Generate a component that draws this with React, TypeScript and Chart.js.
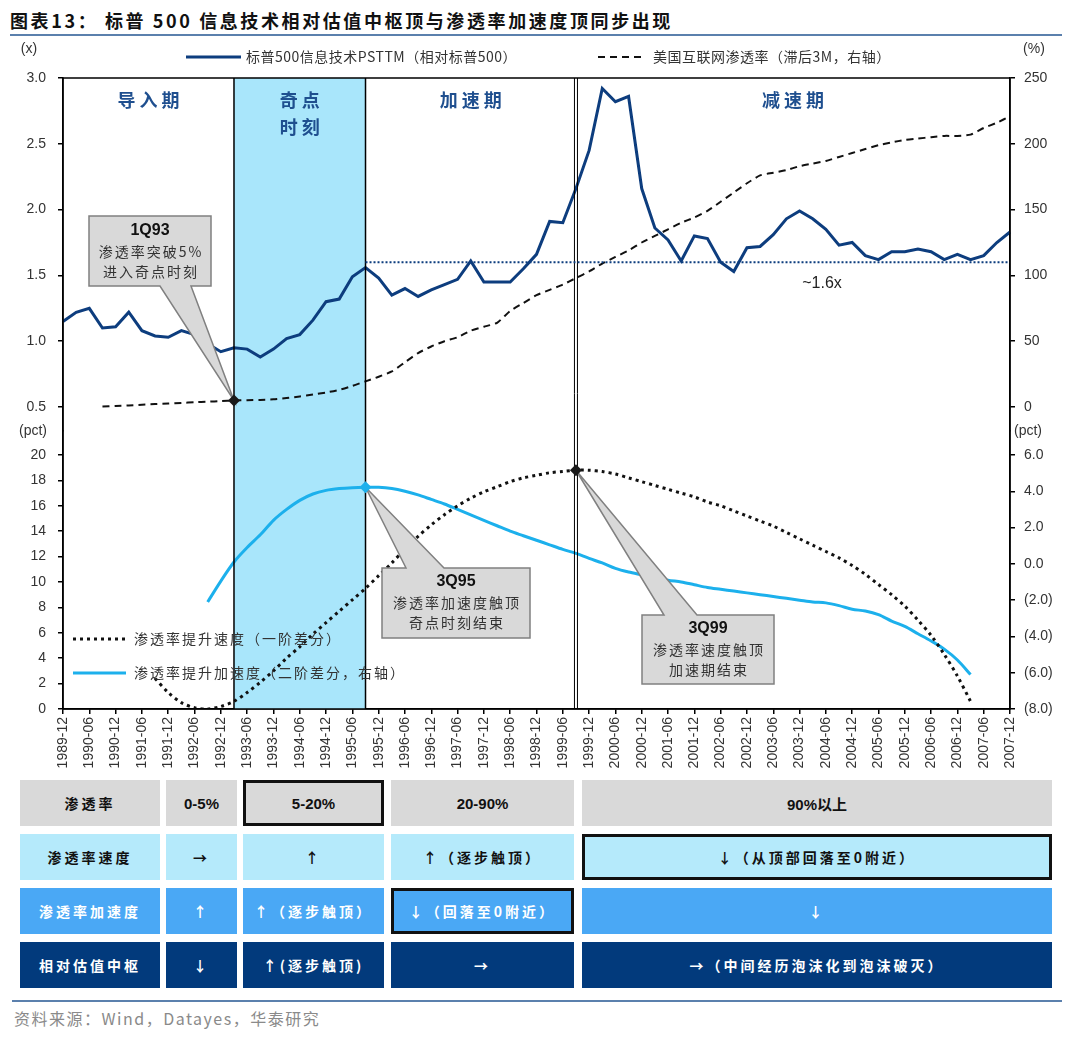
import React, { useEffect, useRef } from 'react';
import { Chart, registerables } from 'chart.js';

Chart.register(...registerables);

const CJK = '"Noto Sans CJK SC", "Noto Sans", sans-serif';
const SANS = '"Liberation Sans", Arial, sans-serif';

// ---------------- data ----------------
const quarters = [
  '1989-12',
  '1990-03', '1990-06', '1990-09', '1990-12',
  '1991-03', '1991-06', '1991-09', '1991-12',
  '1992-03', '1992-06', '1992-09', '1992-12',
  '1993-03', '1993-06', '1993-09', '1993-12',
  '1994-03', '1994-06', '1994-09', '1994-12',
  '1995-03', '1995-06', '1995-09', '1995-12',
  '1996-03', '1996-06', '1996-09', '1996-12',
  '1997-03', '1997-06', '1997-09', '1997-12',
  '1998-03', '1998-06', '1998-09', '1998-12',
  '1999-03', '1999-06', '1999-09', '1999-12',
  '2000-03', '2000-06', '2000-09', '2000-12',
  '2001-03', '2001-06', '2001-09', '2001-12',
  '2002-03', '2002-06', '2002-09', '2002-12',
  '2003-03', '2003-06', '2003-09', '2003-12',
  '2004-03', '2004-06', '2004-09', '2004-12',
  '2005-03', '2005-06', '2005-09', '2005-12',
  '2006-03', '2006-06', '2006-09', '2006-12',
  '2007-03', '2007-06', '2007-09', '2007-12',
];

// S&P 500 IT PS TTM relative to S&P 500 (x, left axis)
const psRelative = [
  1.15, 1.22, 1.25, 1.10, 1.11, 1.22, 1.08, 1.04, 1.03, 1.08,
  1.05, 0.98, 0.92, 0.95, 0.94, 0.88, 0.94, 1.02, 1.05, 1.16,
  1.30, 1.32, 1.49, 1.56, 1.48, 1.35, 1.40, 1.34, 1.39, 1.43,
  1.47, 1.61, 1.45, 1.45, 1.45, 1.55, 1.66, 1.91, 1.90, 2.16,
  2.45, 2.92, 2.82, 2.86, 2.16, 1.86, 1.77, 1.61, 1.80, 1.78,
  1.60, 1.53, 1.71, 1.72, 1.81, 1.93, 1.99, 1.93, 1.85, 1.73,
  1.75, 1.65, 1.62, 1.68, 1.68, 1.70, 1.68, 1.62, 1.66, 1.62,
  1.65, 1.75, 1.83,
];

// US internet penetration (lagged 3M, %, right axis)
const penetration = [
  null, null, null, 0.3, 0.8, 1.2, 1.7, 2.2, 2.6, 3.1,
  3.6, 4.0, 4.5, 5.0, 5.2, 5.4, 5.8, 6.8, 8.0, 9.5,
  11, 13, 16, 19.5, 23, 27, 34, 41, 46, 50,
  53, 58, 61, 64, 73, 79, 85, 89, 93, 98,
  103, 109, 114, 119, 125, 130, 135, 140, 144, 149,
  156, 163, 170, 176, 178, 180, 183, 185, 187, 190,
  193, 196, 199, 201, 203, 204, 205, 206, 206, 207,
  212, 216, 221,
];

// penetration speed (1st difference, pct, left axis)
const speed = [
  null, null, null, null, null, null, null, 2.4, 1.3, 0.5,
  0.1, 0.0, 0.2, 0.6, 1.3, 2.1, 3.0, 4.0, 4.9, 5.9,
  6.8, 7.7, 8.6, 9.5, 10.5, 11.5, 12.6, 13.6, 14.5, 15.3,
  16.0, 16.6, 17.1, 17.5, 17.9, 18.2, 18.4, 18.6, 18.7, 18.8,
  18.8, 18.7, 18.5, 18.2, 17.9, 17.6, 17.3, 17.0, 16.7, 16.3,
  16.0, 15.6, 15.2, 14.8, 14.4, 13.9, 13.4, 12.9, 12.4, 11.9,
  11.3, 10.6, 9.8, 9.0, 8.1, 7.0, 5.8, 4.3, 2.6, 0.6,
  null, null, null,
];

// penetration acceleration (2nd difference, pct, right axis)
const accel = [
  null, null, null, null, null, null, null, null, null, null,
  null, -2.1, -0.95, 0.1, 0.9, 1.6, 2.4, 3.0, 3.5, 3.85,
  4.05, 4.15, 4.2, 4.22, 4.22, 4.15, 4.0, 3.8, 3.55, 3.3,
  3.0, 2.7, 2.4, 2.1, 1.8, 1.55, 1.3, 1.05, 0.8, 0.58,
  0.3, 0.05, -0.25, -0.45, -0.6, -0.75, -0.9, -1.0, -1.15, -1.3,
  -1.4, -1.5, -1.6, -1.7, -1.8, -1.9, -2.0, -2.1, -2.15, -2.3,
  -2.5, -2.6, -2.8, -3.15, -3.45, -3.85, -4.25, -4.7, -5.3, -6.1,
  null, null, null,
];

const leftTopTicks = [0.5, 1.0, 1.5, 2.0, 2.5, 3.0];
const rightTopTicks = [0, 50, 100, 150, 200, 250];
const leftBottomTicks = [0, 2, 4, 6, 8, 10, 12, 14, 16, 18, 20];
const rightBottomTicks = [-8, -6, -4, -2, 0, 2, 4, 6];

const bandStart = '1993-03';
const bandEnd = '1995-09';
const accelEnd = '1999-09';
const centerLevel = 1.6;

const phaseLabels = ['导入期', '奇点', '时刻', '加速期', '减速期'];
const legendTop = ['标普500信息技术PSTTM（相对标普500）', '美国互联网渗透率（滞后3M，右轴）'];
const legendBottom = ['渗透率提升速度（一阶差分）', '渗透率提升加速度（二阶差分，右轴）'];
const callout1 = ['1Q93', '渗透率突破5%', '进入奇点时刻'];
const callout2 = ['3Q95', '渗透率加速度触顶', '奇点时刻结束'];
const callout3 = ['3Q99', '渗透率速度触顶', '加速期结束'];

const tableRowLabels = ['渗透率', '渗透率速度', '渗透率加速度', '相对估值中枢'];
const tableCells = [
  ['0-5%', '5-20%', '20-90%', '90%以上'],
  ['→', '↑', '↑（逐步触顶）', '↓（从顶部回落至0附近）'],
  ['↑', '↑（逐步触顶）', '↓（回落至0附近）', '↓'],
  ['↓', '↑(逐步触顶)', '→', '→（中间经历泡沫化到泡沫破灭）'],
];
const highlightedCells = ['0-2', '1-4', '2-3'];

// ---------------- styling ----------------
const NAVY = '#0d3d7e';
const CYAN = '#1cb0ec';
const BAND = '#a9e6fb';
const PHASE = '#1f4f8f';

const TOP = 78;
const SPLIT = 431;
const BOTTOM = 709;

function setSpacing(ctx: any, px: number) {
  try { ctx.letterSpacing = px + 'px'; } catch (e) { /* ignore */ }
}

function drawCallout(ctx: any, box: any, base: number[], tip: any, side: string, lines: string[], cx: number, ys: number[]) {
  const { x, y, w, h } = box;
  ctx.save();
  ctx.beginPath();
  if (side === 'bottom') {
    ctx.moveTo(x, y);
    ctx.lineTo(x + w, y);
    ctx.lineTo(x + w, y + h);
    ctx.lineTo(base[1], y + h);
    ctx.lineTo(tip.x, tip.y);
    ctx.lineTo(base[0], y + h);
    ctx.lineTo(x, y + h);
  } else {
    ctx.moveTo(x, y);
    ctx.lineTo(base[0], y);
    ctx.lineTo(tip.x, tip.y);
    ctx.lineTo(base[1], y);
    ctx.lineTo(x + w, y);
    ctx.lineTo(x + w, y + h);
    ctx.lineTo(x, y + h);
  }
  ctx.closePath();
  ctx.fillStyle = '#d9d9d9';
  ctx.fill();
  ctx.strokeStyle = '#808080';
  ctx.lineWidth = 1.5;
  ctx.stroke();
  ctx.textAlign = 'center';
  ctx.textBaseline = 'middle';
  ctx.fillStyle = '#111';
  setSpacing(ctx, 0);
  ctx.font = 'bold 16px ' + SANS;
  ctx.fillText(lines[0], cx, ys[0]);
  ctx.fillStyle = '#333';
  ctx.font = '14px ' + CJK;
  setSpacing(ctx, 2);
  ctx.fillText(lines[1], cx + 1, ys[1]);
  ctx.fillText(lines[2], cx + 1, ys[2]);
  ctx.restore();
}

function diamond(ctx: any, x: number, y: number, r: number, color: string) {
  ctx.save();
  ctx.beginPath();
  ctx.moveTo(x, y - r);
  ctx.lineTo(x + r, y);
  ctx.lineTo(x, y + r);
  ctx.lineTo(x - r, y);
  ctx.closePath();
  ctx.fillStyle = color;
  ctx.fill();
  ctx.restore();
}

const decorPlugin = {
  id: 'decor',
  beforeDatasetsDraw(chart: any) {
    const { ctx, chartArea: a, scales } = chart;
    const x = scales.x;
    const x0 = x.getPixelForValue(quarters.indexOf(bandStart));
    const x1 = x.getPixelForValue(quarters.indexOf(bandEnd));
    ctx.save();
    ctx.fillStyle = BAND;
    ctx.fillRect(x0, a.top, x1 - x0, a.bottom - a.top);
    ctx.restore();
  },
  afterDatasetsDraw(chart: any) {
    const { ctx, chartArea: a, scales } = chart;
    const x = scales.x;
    const iBand0 = quarters.indexOf(bandStart);
    const iBand1 = quarters.indexOf(bandEnd);
    const iAcc = quarters.indexOf(accelEnd);
    const x0 = x.getPixelForValue(iBand0);
    const x1 = x.getPixelForValue(iBand1);
    const x2 = x.getPixelForValue(iAcc);

    ctx.save();
    // vertical period separators
    ctx.strokeStyle = '#000';
    ctx.lineWidth = 1.5;
    ctx.beginPath();
    ctx.moveTo(x0, a.top); ctx.lineTo(x0, a.bottom);
    ctx.moveTo(x1, a.top); ctx.lineTo(x1, a.bottom);
    ctx.stroke();
    ctx.lineWidth = 1;
    ctx.beginPath();
    ctx.moveTo(x2 - 1.5, a.top); ctx.lineTo(x2 - 1.5, a.bottom);
    ctx.moveTo(x2 + 1.5, a.top); ctx.lineTo(x2 + 1.5, a.bottom);
    ctx.stroke();

    // center level dotted line
    const yc = scales.yTL.getPixelForValue(centerLevel);
    ctx.strokeStyle = NAVY;
    ctx.lineWidth = 2;
    ctx.setLineDash([2, 2]);
    ctx.beginPath();
    ctx.moveTo(x1, yc); ctx.lineTo(a.right, yc);
    ctx.stroke();
    ctx.setLineDash([]);

    // frame
    ctx.strokeStyle = '#000';
    ctx.lineWidth = 1.5;
    ctx.strokeRect(a.left, a.top, a.right - a.left, a.bottom - a.top);
    ctx.restore();

    // callouts
    const tip1 = { x: x0, y: scales.yTR.getPixelForValue(penetration[iBand0]) };
    const tip2 = { x: x1, y: scales.yBR.getPixelForValue(accel[iBand1]) };
    const tip3 = { x: x2, y: scales.yBL.getPixelForValue(speed[iAcc]) };
    drawCallout(ctx, { x: 89, y: 216, w: 122, h: 70 }, [160, 191], tip1, 'bottom', callout1, 150, [231, 252, 272]);
    drawCallout(ctx, { x: 382, y: 568, w: 148, h: 70 }, [406, 444], tip2, 'top', callout2, 456, [582, 603, 623]);
    drawCallout(ctx, { x: 642, y: 615, w: 132, h: 69 }, [664, 697], tip3, 'top', callout3, 708, [629, 650, 670]);
    diamond(ctx, tip1.x, tip1.y, 6, '#1a1a1a');
    diamond(ctx, tip2.x, tip2.y, 6, CYAN);
    diamond(ctx, tip3.x, tip3.y, 6, '#1a1a1a');

    // phase labels
    ctx.save();
    ctx.fillStyle = PHASE;
    ctx.font = 'bold 18px ' + CJK;
    ctx.textAlign = 'center';
    ctx.textBaseline = 'middle';
    setSpacing(ctx, 4);
    ctx.fillText(phaseLabels[0], (a.left + x0) / 2 + 2, 100);
    ctx.fillText(phaseLabels[1], (x0 + x1) / 2 + 2, 100);
    ctx.fillText(phaseLabels[2], (x0 + x1) / 2 + 2, 127);
    ctx.fillText(phaseLabels[3], (x1 + x2) / 2 + 2, 100);
    ctx.fillText(phaseLabels[4], (x2 + a.right) / 2 + 2, 100);

    // ~1.6x
    setSpacing(ctx, 0);
    ctx.fillStyle = '#222';
    ctx.font = '16px ' + SANS;
    ctx.fillText('~' + centerLevel + 'x', 822, 284);

    // unit labels
    ctx.fillStyle = '#333';
    ctx.font = '14px ' + SANS;
    ctx.fillText('(x)', 29, 49);
    ctx.fillText('(%)', 1034, 49);
    ctx.fillText('(pct)', 33, 431);
    ctx.fillText('(pct)', 1028, 431);

    // top legend
    ctx.strokeStyle = NAVY;
    ctx.lineWidth = 3;
    ctx.beginPath();
    ctx.moveTo(186, 57); ctx.lineTo(241, 57);
    ctx.stroke();
    ctx.strokeStyle = '#111';
    ctx.lineWidth = 2;
    ctx.setLineDash([7, 5]);
    ctx.beginPath();
    ctx.moveTo(598, 57); ctx.lineTo(646, 57);
    ctx.stroke();
    ctx.setLineDash([]);
    ctx.textAlign = 'left';
    ctx.fillStyle = '#333';
    ctx.font = '14px ' + CJK;
    setSpacing(ctx, 0.5);
    ctx.fillText(legendTop[0], 246, 57);
    ctx.fillText(legendTop[1], 653, 57);

    // bottom legend
    ctx.strokeStyle = '#111';
    ctx.lineWidth = 3;
    ctx.setLineDash([3, 4]);
    ctx.beginPath();
    ctx.moveTo(73, 639); ctx.lineTo(126, 639);
    ctx.stroke();
    ctx.setLineDash([]);
    ctx.strokeStyle = CYAN;
    ctx.beginPath();
    ctx.moveTo(73, 673); ctx.lineTo(126, 673);
    ctx.stroke();
    setSpacing(ctx, 2);
    ctx.fillText(legendBottom[0], 134, 639);
    ctx.fillText(legendBottom[1], 134, 673);
    ctx.restore();
  },
};

const tickFont = { family: SANS, size: 14 };

function yAxis(position: string, weight: number, stackWeight: number, min: number, max: number, ticks: number[], fmt: (v: number) => string, width: number, pad: number) {
  return {
    type: 'linear',
    position,
    stack: 'main',
    stackWeight,
    weight,
    min,
    max,
    afterBuildTicks: (scale: any) => { scale.ticks = ticks.map((v) => ({ value: v })); },
    afterFit: (scale: any) => { scale.width = width; },
    grid: { drawOnChartArea: false, drawTicks: true, tickLength: 5, color: '#000', lineWidth: 1.5 },
    border: { display: true, color: '#000', width: 1.5 },
    ticks: { autoSkip: false, font: tickFont, color: '#333', padding: pad, callback: (v: any) => fmt(Number(v)) },
  };
}

export default function App() {
  const ref = useRef<HTMLCanvasElement>(null);

  useEffect(() => {
    const canvas = ref.current;
    if (!canvas) return;
    const chart = new Chart(canvas, {
      type: 'line',
      data: {
        labels: quarters,
        datasets: [
          { label: legendTop[0], data: psRelative, yAxisID: 'yTL', borderColor: NAVY, borderWidth: 3, pointRadius: 0, tension: 0, order: 1 },
          { label: legendTop[1], data: penetration, yAxisID: 'yTR', borderColor: '#111', borderWidth: 2, borderDash: [7, 5], pointRadius: 0, tension: 0.2, order: 2 },
          { label: legendBottom[0], data: speed, yAxisID: 'yBL', borderColor: '#111', borderWidth: 3, borderDash: [3, 4], pointRadius: 0, tension: 0.3, order: 3 },
          { label: legendBottom[1], data: accel, yAxisID: 'yBR', borderColor: CYAN, borderWidth: 3, pointRadius: 0, tension: 0.3, order: 4 },
        ],
      } as any,
      options: {
        animation: false,
        responsive: false,
        devicePixelRatio: 1,
        layout: { padding: { top: TOP, left: 0, right: 0, bottom: 0 } },
        plugins: { legend: { display: false }, tooltip: { enabled: false }, title: { display: false } },
        scales: {
          x: {
            type: 'category',
            offset: false,
            afterBuildTicks: (scale: any) => { scale.ticks = scale.ticks.filter((t: any) => t.value % 2 === 0); },
            afterFit: (scale: any) => { scale.height = 780 - BOTTOM; },
            grid: { drawOnChartArea: false, drawTicks: true, tickLength: 5, color: '#000', lineWidth: 1.5 },
            border: { display: true, color: '#000', width: 1.5 },
            ticks: { autoSkip: false, maxRotation: 90, minRotation: 90, font: tickFont, color: '#333', padding: 3 },
          },
          yTL: yAxis('left', 2, SPLIT - TOP, 0.5 - (SPLIT - 407) / 131.6, 3.0, leftTopTicks, (v) => v.toFixed(1), 63, 12),
          yBL: yAxis('left', 1, BOTTOM - SPLIT, 0, 20 + (455 - SPLIT) / 12.7, leftBottomTicks, (v) => String(v), 63, 12),
          yTR: yAxis('right', 1, SPLIT - TOP, -(SPLIT - 407) / 1.316, 250, rightTopTicks, (v) => String(v), 70, 9),
          yBR: yAxis('right', 2, BOTTOM - SPLIT, -8, 6 + (455 - SPLIT) / 18.143, rightBottomTicks, (v) => (v < 0 ? '(' + Math.abs(v).toFixed(1) + ')' : v.toFixed(1)), 70, 9),
        } as any,
      },
      plugins: [decorPlugin],
    } as any);
    return () => chart.destroy();
  }, []);

  const rowBg = ['#d9d9d9', '#b5eafb', '#4aa8f5', '#023a7c'];
  const rowFg = ['#111', '#111', '#fff', '#fff'];
  const rowY = [780, 834, 888, 942];
  const colX = [20, 166, 243, 391, 582];
  const colW = [140, 71, 141, 183, 470];

  const cells: any[] = [];
  for (let r = 0; r < 4; r++) {
    for (let c = 0; c < 5; c++) {
      const text = c === 0 ? tableRowLabels[r] : tableCells[r][c - 1];
      const hl = highlightedCells.includes(r + '-' + c);
      const latin = r === 0 && c > 0;
      cells.push(
        <div
          key={r + '-' + c}
          style={{
            position: 'absolute', left: colX[c], top: rowY[r], width: colW[c], height: 46,
            boxSizing: 'border-box', background: rowBg[r], color: rowFg[r],
            border: hl ? '3px solid #111' : 'none',
            display: 'flex', alignItems: 'center', justifyContent: 'center',
            fontFamily: latin ? SANS + ',' + CJK : CJK, fontWeight: 'bold',
            fontSize: latin ? 15 : 14, letterSpacing: latin ? 0 : 3, whiteSpace: 'nowrap',
          }}
        >
          {text}
        </div>
      );
    }
  }

  return (
    <div style={{ position: 'absolute', left: 0, top: 0, width: 1080, height: 1040, background: '#fff', fontFamily: CJK }}>
      <div style={{ position: 'absolute', left: 10, top: 8, fontSize: 18, fontWeight: 'bold', lineHeight: '24px', letterSpacing: 2.6, color: '#111', whiteSpace: 'nowrap' }}>
        图表13：  标普 500 信息技术相对估值中枢顶与渗透率加速度顶同步出现
      </div>
      <div style={{ position: 'absolute', left: 10, top: 34, width: 1052, height: 2, background: '#5b80ad' }} />
      <canvas ref={ref} width={1080} height={780} style={{ position: 'absolute', left: 0, top: 0, width: 1080, height: 780 }} />
      {cells}
      <div style={{ position: 'absolute', left: 12, top: 1000, width: 1050, height: 2, background: '#5b80ad' }} />
      <div style={{ position: 'absolute', left: 14, top: 1007, fontSize: 16, letterSpacing: 1.5, color: '#8a8a8a', lineHeight: '22px', whiteSpace: 'nowrap' }}>
        资料来源：Wind，Datayes，华泰研究
      </div>
    </div>
  );
}
